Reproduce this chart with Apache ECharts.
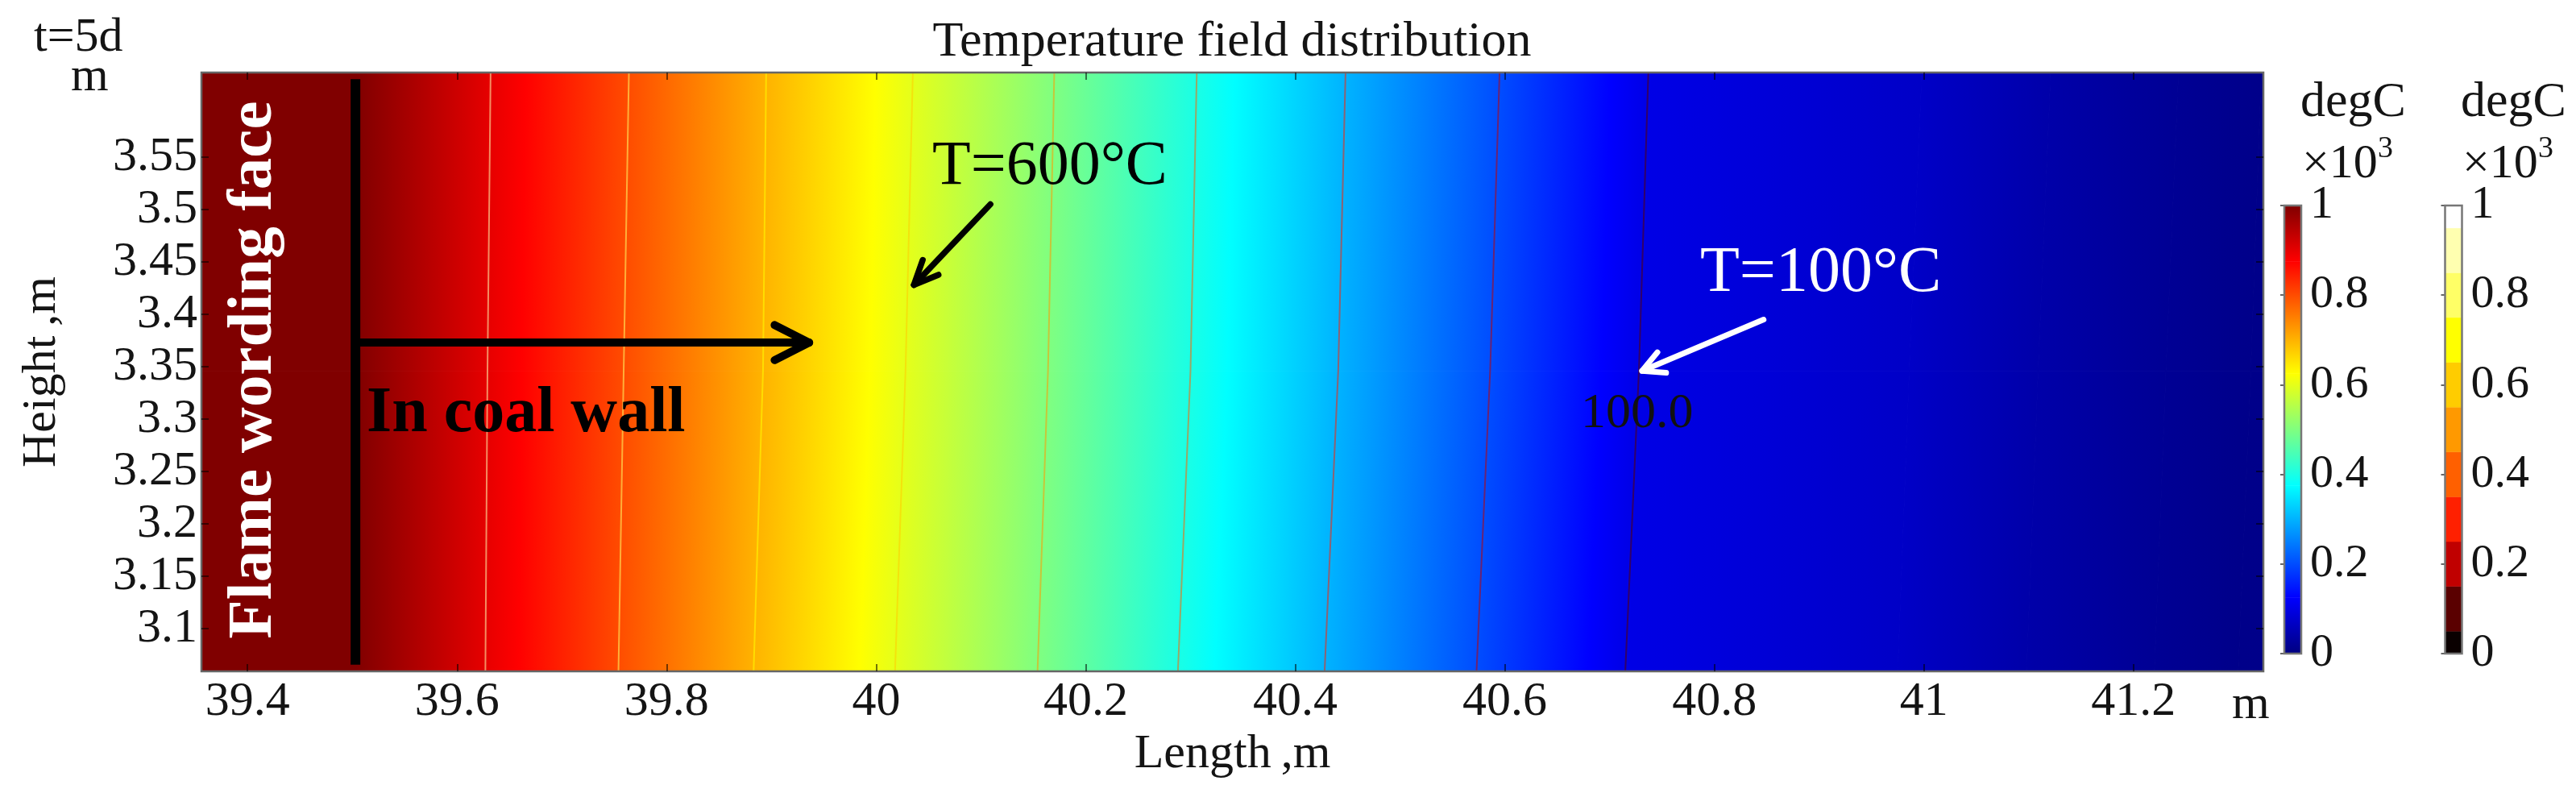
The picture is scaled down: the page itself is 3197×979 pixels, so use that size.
<!DOCTYPE html>
<html>
<head>
<meta charset="utf-8">
<title>Temperature field distribution</title>
<script src="https://cdn.jsdelivr.net/npm/echarts@6/dist/echarts.min.js"></script>
<style>
  html, body { margin: 0; padding: 0; background: #fff; }
  #main { width: 3197px; height: 979px; }
</style>
</head>
<body>
<div id="main"></div>
<script>
// axis ticks
const xTicks = [39.4, 39.6, 39.8, 40, 40.2, 40.4, 40.6, 40.8, 41, 41.2];
const yTicks = [3.1, 3.15, 3.2, 3.25, 3.3, 3.35, 3.4, 3.45, 3.5, 3.55];
const barTicks = [0, 0.2, 0.4, 0.6, 0.8, 1];
const xRange = [39.356, 41.324];
const yRange = [3.0592, 3.6308];

// temperature (degC) read along the plot, and where each level sits at three heights
const yLevels = [3.6308, 3.346, 3.0592];
const tempLevels = [1000, 1000, 900, 800, 700, 600, 500, 400, 300, 200, 100, 70, 40, 20, 10, 9];
const isoTop = [39.356, 39.504, 39.632, 39.764, 39.895, 40.035, 40.170, 40.306, 40.448, 40.595, 40.737, 40.998, 41.121, 41.243, 41.322, 41.360];
const isoMid = [39.356, 39.504, 39.629, 39.759, 39.892, 40.028, 40.164, 40.300, 40.441, 40.586, 40.728, 40.986, 41.109, 41.231, 41.312, 41.350];
const isoBottom = [39.356, 39.504, 39.627, 39.754, 39.883, 40.018, 40.154, 40.288, 40.428, 40.573, 40.715, 40.975, 41.098, 41.220, 41.300, 41.340];

// the nine contour lines are the 900..100 entries of the level lists
const contourTemps = [900, 800, 700, 600, 500, 400, 300, 200, 100];
const contourColors = ['#ffffb0', '#ffff66', '#ffff00', '#ffcc00', '#ff9900', '#ff6000', '#ff2000', '#c00000', '#5a0000'];

// rainbow colour table, left colour bar
const rampStops = [0, 0.125, 0.375, 0.625, 0.875, 1];
const rampColors = ['#000080', '#0000ff', '#00ffff', '#ffff00', '#ff0000', '#800000'];

// stepped colour table, right colour bar
const stepEdges = [0, 0.05, 0.15, 0.25, 0.35, 0.45, 0.55, 0.65, 0.75, 0.85, 0.95, 1];
const stepColors = ['#0a0000', '#5a0000', '#c00000', '#ff2000', '#ff6000', '#ff9900', '#ffcc00', '#ffff00', '#ffff66', '#ffffb0', '#ffffff'];

// [x0, y0, tipX, tipY] in metres
const blackArrows = [[39.507, 3.373, 39.936, 3.373], [40.109, 3.505, 40.036, 3.428]];
const whiteArrows = [[40.847, 3.395, 40.731, 3.346]];
const wallX = 39.503;

function hexToRgb(hex) {
  return [1, 3, 5].map(i => parseInt(hex.substr(i, 2), 16));
}

function rampColor(t) {
  t = Math.max(0, Math.min(1, t));
  let i = 0;
  while (i < rampStops.length - 2 && t > rampStops[i + 1]) i++;
  const f = (t - rampStops[i]) / (rampStops[i + 1] - rampStops[i]);
  const a = hexToRgb(rampColors[i]);
  const b = hexToRgb(rampColors[i + 1]);
  const c = a.map((v, k) => Math.round(v + (b[k] - v) * f));
  return 'rgb(' + c.join(',') + ')';
}

// colour stops between two temperatures, keeps the knots of the table
function bandStops(t0, t1) {
  const stops = [{ offset: 0, color: rampColor(t0 / 1000) }];
  rampStops.forEach(s => {
    const v = s * 1000;
    if ((v - t0) * (v - t1) < 0) {
      stops.push({ offset: (v - t0) / (t1 - t0), color: rampColor(s) });
    }
  });
  stops.push({ offset: 1, color: rampColor(t1 / 1000) });
  return stops;
}

// one cell per band and per row: [band, row]
const fieldCells = [];
for (let b = 0; b < tempLevels.length - 1; b++) {
  fieldCells.push([b, 0], [b, 1]);
}
const isoRows = [isoTop, isoMid, isoBottom];

function renderField(params, api) {
  const b = api.value(0);
  const r = api.value(1);
  const p0 = api.coord([isoRows[r][b], yLevels[r]]);
  const p1 = api.coord([isoRows[r][b + 1], yLevels[r]]);
  const p2 = api.coord([isoRows[r + 1][b + 1], yLevels[r + 1]]);
  const p3 = api.coord([isoRows[r + 1][b], yLevels[r + 1]]);
  // gradient runs square to the slant of the band so the colours follow the isotherms
  const h = p3[1] - p0[1];
  const slope = ((p3[0] - p0[0]) + (p2[0] - p1[0])) / 2 / h;
  const midY = (p0[1] + p3[1]) / 2;
  const a = [(p0[0] + p3[0]) / 2, midY];
  const w = (p1[0] + p2[0]) / 2 - a[0];
  const k = w / (1 + slope * slope);
  const grad = new echarts.graphic.LinearGradient(
    a[0], a[1], a[0] + k, a[1] - k * slope,
    bandStops(tempLevels[b], tempLevels[b + 1]), true
  );
  return {
    type: 'polygon',
    shape: { points: [p0, p1, p2, p3] },
    style: { fill: grad, stroke: grad, lineWidth: 1 }
  };
}

function renderArrow(width, barb, angle, color) {
  return function (params, api) {
    const tail = api.coord([api.value(0), api.value(1)]);
    const tip = api.coord([api.value(2), api.value(3)]);
    const dir = Math.atan2(tail[1] - tip[1], tail[0] - tip[0]);
    const side = s => [tip[0] + barb * Math.cos(dir + s * angle), tip[1] + barb * Math.sin(dir + s * angle)];
    const stroke = { fill: null, stroke: color, lineWidth: width, lineCap: 'round', lineJoin: 'round' };
    return {
      type: 'group',
      children: [
        { type: 'line', shape: { x1: tail[0], y1: tail[1], x2: tip[0], y2: tip[1] }, style: stroke },
        { type: 'polyline', shape: { points: [side(1), tip, side(-1)] }, style: stroke }
      ]
    };
  };
}

function renderBarSegment(edges, colors, gradient) {
  return function (params, api) {
    const i = api.value(0);
    const lo = api.coord([0, edges[i]]);
    const hi = api.coord([1, edges[i + 1]]);
    const fill = gradient
      ? new echarts.graphic.LinearGradient(0, lo[1], 0, hi[1], [
          { offset: 0, color: colors[i] }, { offset: 1, color: colors[i + 1] }
        ], true)
      : colors[i];
    return {
      type: 'rect',
      shape: { x: lo[0], y: hi[1], width: hi[0] - lo[0], height: lo[1] - hi[1] },
      style: { fill: fill, stroke: fill, lineWidth: 0.5 }
    };
  };
}

const SERIF = '"Liberation Serif", "Times New Roman", serif';
const TEXT = '#141414';

function note(text, x, y, size, color, extra) {
  return Object.assign({
    type: 'text', x: x, y: y, z: 20,
    style: Object.assign({
      text: text, fontFamily: SERIF, fontSize: size, fill: color,
      textAlign: 'left', textVerticalAlign: 'middle'
    }, extra || {})
  });
}

function colourBarAxes(left) {
  return {
    grid: {
      left: left, width: 21, top: 255, height: 556, show: true, outerBoundsMode: 'none',
      backgroundColor: 'transparent', borderColor: '#777', borderWidth: 2.5, z: 5
    },
    x: { type: 'value', min: 0, max: 1, show: false },
    y: {
      type: 'value', min: 0, max: 1, interval: 0.2, position: 'right',
      axisLine: { show: false }, splitLine: { show: false },
      axisTick: { show: true, inside: true, length: 5, lineStyle: { color: 'rgba(0,0,0,0.6)', width: 2 } },
      axisLabel: { margin: 11, fontFamily: SERIF, fontSize: 58, color: TEXT, customValues: barTicks }
    }
  };
}

const bar1 = colourBarAxes(2835);
const bar2 = colourBarAxes(3034.5);

const plotTick = { show: true, inside: true, length: 9, lineStyle: { color: 'rgba(0,0,0,0.55)', width: 2 } };

const chart = echarts.init(document.getElementById('main'));
chart.setOption({
  animation: false,
  backgroundColor: '#fff',
  title: {
    text: 'Temperature field distribution',
    left: 1524, top: 17, textAlign: 'center',
    textStyle: { fontFamily: SERIF, fontSize: 62, fontWeight: 'normal', color: TEXT }
  },
  grid: [
    { left: 250, width: 2559, top: 90, height: 743, show: true, outerBoundsMode: 'none', backgroundColor: 'transparent', borderColor: '#666', borderWidth: 2.5, z: 5 },
    bar1.grid,
    bar2.grid
  ],
  xAxis: [
    {
      type: 'value', gridIndex: 0, min: xRange[0], max: xRange[1],
      name: 'Length\u2009,m', nameLocation: 'middle', nameGap: 62,
      nameTextStyle: { fontFamily: SERIF, fontSize: 60, color: TEXT },
      axisLine: { show: false }, splitLine: { show: false }, z: 12,
      axisTick: Object.assign({ customValues: xTicks }, plotTick),
      axisLabel: { customValues: xTicks, margin: 8, fontFamily: SERIF, fontSize: 60, color: TEXT }
    },
    {
      type: 'value', gridIndex: 0, position: 'top', min: xRange[0], max: xRange[1],
      axisLine: { show: false }, splitLine: { show: false }, z: 12,
      axisTick: Object.assign({ customValues: xTicks }, plotTick),
      axisLabel: { show: false }
    },
    Object.assign({ gridIndex: 1 }, bar1.x),
    Object.assign({ gridIndex: 2 }, bar2.x)
  ],
  yAxis: [
    {
      type: 'value', gridIndex: 0, min: yRange[0], max: yRange[1],
      name: 'Height\u2009,m', nameLocation: 'middle', nameGap: 168, nameRotate: 90,
      nameTextStyle: { fontFamily: SERIF, fontSize: 60, color: TEXT },
      axisLine: { show: false }, splitLine: { show: false }, z: 12,
      axisTick: Object.assign({ customValues: yTicks }, plotTick),
      axisLabel: { customValues: yTicks, margin: 5, fontFamily: SERIF, fontSize: 60, color: TEXT }
    },
    {
      type: 'value', gridIndex: 0, position: 'right', min: yRange[0], max: yRange[1],
      axisLine: { show: false }, splitLine: { show: false }, z: 12,
      axisTick: Object.assign({ customValues: yTicks }, plotTick),
      axisLabel: { show: false }
    },
    Object.assign({ gridIndex: 1 }, bar1.y),
    Object.assign({ gridIndex: 2 }, bar2.y)
  ],
  series: [
    {
      type: 'custom', coordinateSystem: 'cartesian2d', xAxisIndex: 0, yAxisIndex: 0, clip: true, z: 1,
      silent: true, renderItem: renderField, data: fieldCells,
      encode: { x: -1, y: -1 }
    }
  ].concat(contourTemps.map((temp, i) => {
    const k = tempLevels.indexOf(temp);
    return {
      type: 'line', xAxisIndex: 0, yAxisIndex: 0, symbol: 'none', silent: true, z: 2,
      lineStyle: { color: contourColors[i], width: 2, opacity: 0.55 },
      data: isoRows.map((row, r) => [row[k], yLevels[r]])
    };
  })).concat([
    {
      type: 'line', xAxisIndex: 0, yAxisIndex: 0, symbol: 'none', silent: true, z: 3,
      lineStyle: { color: '#000', width: 12, cap: 'butt' },
      data: [[wallX, 3.6245], [wallX, 3.0655]]
    },
    {
      type: 'custom', coordinateSystem: 'cartesian2d', xAxisIndex: 0, yAxisIndex: 0, z: 4, silent: true,
      renderItem: (p, api) => (api.value(3) === blackArrows[0][3]
        ? renderArrow(10, 48, 0.47, '#000')(p, api)
        : renderArrow(7.5, 33, 0.42, '#000')(p, api)),
      data: blackArrows, encode: { x: -1, y: -1 }
    },
    {
      type: 'custom', coordinateSystem: 'cartesian2d', xAxisIndex: 0, yAxisIndex: 0, z: 4, silent: true,
      renderItem: renderArrow(7, 30, 0.48, '#fff'),
      data: whiteArrows, encode: { x: -1, y: -1 }
    },
    {
      type: 'custom', coordinateSystem: 'cartesian2d', xAxisIndex: 2, yAxisIndex: 2, z: 1, silent: true,
      renderItem: renderBarSegment(rampStops, rampColors, true),
      data: rampStops.slice(1).map((s, i) => [i]), encode: { x: -1, y: -1 }
    },
    {
      type: 'custom', coordinateSystem: 'cartesian2d', xAxisIndex: 3, yAxisIndex: 3, z: 1, silent: true,
      renderItem: renderBarSegment(stepEdges, stepColors, false),
      data: stepColors.map((c, i) => [i]), encode: { x: -1, y: -1 }
    }
  ]),
  graphic: [
    note('t=5d', 42, 47, 60, TEXT),
    note('m', 88, 96, 60, TEXT),
    note('m', 2770, 875, 60, TEXT),
    note('degC', 2855, 128, 62, TEXT),
    note('×10', 2857, 204, 60, TEXT),
    note('3', 2951, 185, 38, TEXT),
    note('degC', 3054, 128, 62, TEXT),
    note('×10', 3056, 204, 60, TEXT),
    note('3', 3150, 185, 38, TEXT),
    note('T=600°C', 1157, 208, 78, '#000'),
    note('T=100°C', 2110, 340, 80, '#fff'),
    note('100.0', 1962, 514, 62, '#111'),
    note('In coal wall', 455, 514, 80, '#000', { fontWeight: 'bold' }),
    Object.assign(note('Flame wording face', 316, 459, 79, '#fff', { fontWeight: 'bold', textAlign: 'center' }), { rotation: Math.PI / 2 })
  ]
});
</script>
</body>
</html>
